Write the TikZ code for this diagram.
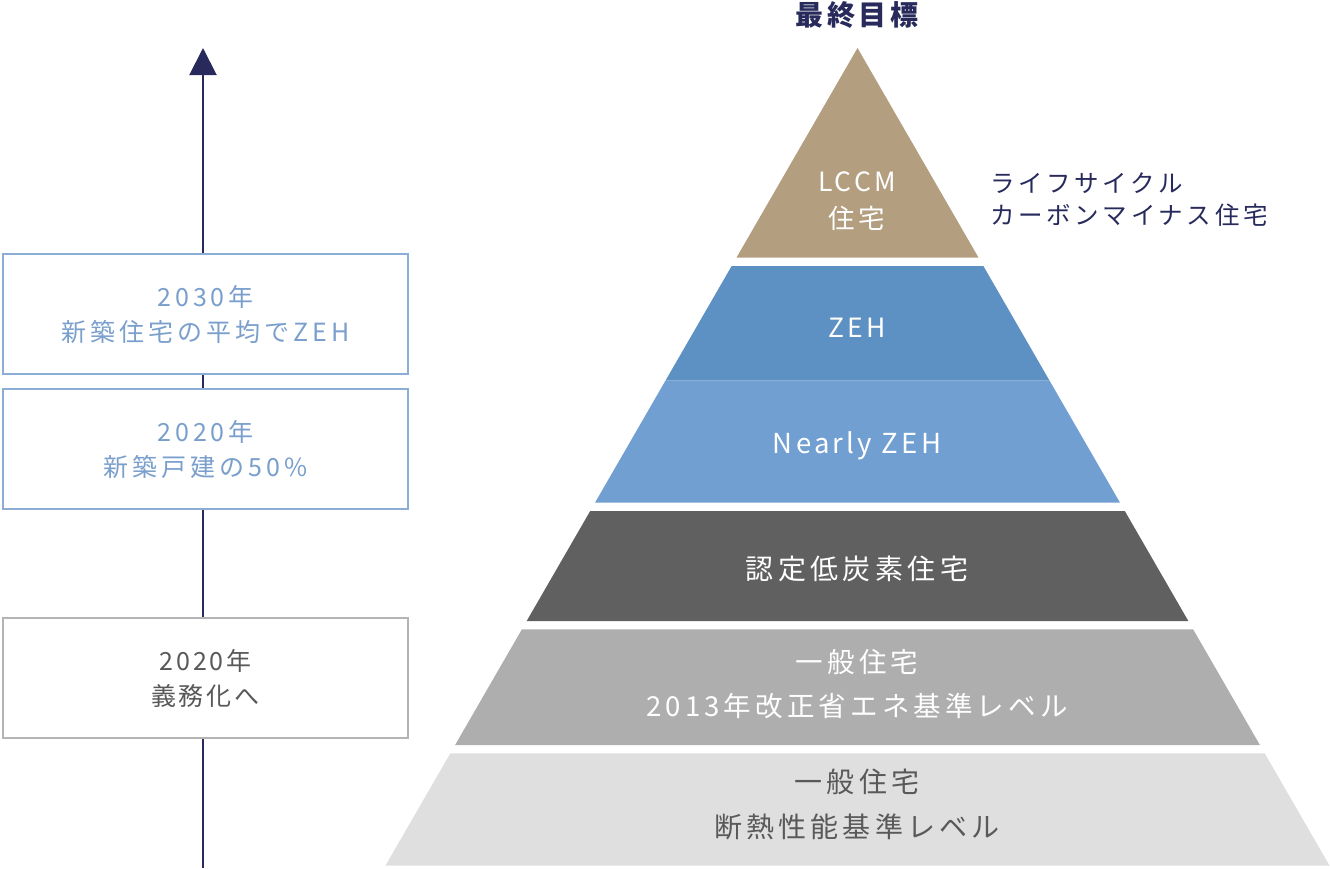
\documentclass[tikz,border=0pt]{standalone}
\usepackage{fontspec}
\setmainfont{Noto Sans CJK JP}
\usetikzlibrary{arrows.meta}
\definecolor{navy}{HTML}{272A5B}
\definecolor{tan}{HTML}{B39E80}
\definecolor{zehblue}{HTML}{5E91C3}
\definecolor{nearblue}{HTML}{719FD1}
\definecolor{darkgr}{HTML}{606060}
\definecolor{midgr}{HTML}{AEAEAE}
\definecolor{lightgr}{HTML}{DFDFDF}
\definecolor{txtgr}{HTML}{595959}
\definecolor{boxblue}{HTML}{8BADD6}
\definecolor{txtblue}{HTML}{7A9FCC}
\definecolor{boxgr}{HTML}{B4B4B4}
\newcommand\pyrlayer[3]{%
  \pgfmathsetmacro\hwa{(#1-48)*0.57735}%
  \pgfmathsetmacro\hwb{(#2-48)*0.57735}%
  \fill[#3] (857.5-\hwa,#1) -- (857.5+\hwa,#1) -- (857.5+\hwb,#2) -- (857.5-\hwb,#2) -- cycle;}
\tikzset{
  lbl/.style={align=center, inner sep=0pt},
  f26/.style={font={\fontsize{26.5}{37}\selectfont\addfontfeatures{LetterSpace=12}}},
  tbox/.style={draw, fill=white, line width=2pt, minimum width=405pt, minimum height=120pt, inner sep=0pt, align=center,
     font={\fontsize{25}{35}\selectfont\addfontfeatures{LetterSpace=16}}},
}
\begin{document}
\begin{tikzpicture}[x=1pt,y=-1pt]
\useasboundingbox (0,0) rectangle (1330,868);
% timeline arrow
\coordinate (abot) at (203,868);
\coordinate (atop) at (203,48);
\draw[navy, line width=2pt, -{Triangle[length=27pt,width=27pt]}] (abot) -- (atop);
% boxes
\node[tbox, draw=boxblue, text=txtblue] (b2030) at (205.5,314) {2030年\\新築住宅の平均でZEH};
\node[tbox, draw=boxblue, text=txtblue] (b2020a) at (205.5,449) {2020年\\新築戸建の50\%};
\node[tbox, draw=boxgr, text=txtgr, font={\fontsize{25}{35}\selectfont\addfontfeatures{LetterSpace=12}}] (b2020b) at (205.5,678) {2020年\\義務化へ};
% pyramid
\fill[tan] (857.5,48) -- (978.45,257.5) -- (736.55,257.5) -- cycle;
\pyrlayer{266}{380.7}{zehblue}
\pyrlayer{380.7}{502.7}{nearblue}
\pyrlayer{511}{621}{darkgr}
\pyrlayer{629.3}{745}{midgr}
\pyrlayer{753.3}{865.7}{lightgr}
% labels
\node[lbl, text=navy, font={\fontsize{28}{34}\selectfont\bfseries\addfontfeatures{LetterSpace=13}}] (goal) at (857,15) {最終目標};
\node[lbl, f26, text=white] (lccm) at (857,201.5) {LCCM\\住宅};
\node[lbl, anchor=west, align=left, text=navy, font={\fontsize{24.5}{32}\selectfont\addfontfeatures{LetterSpace=15}}] (lcdesc) at (990,199.5) {ライフサイクル\\カーボンマイナス住宅};
\node[lbl, f26, text=white] (zeh) at (857,328) {ZEH};
\node[lbl, text=white, font={\fontsize{27.5}{37}\selectfont\addfontfeatures{LetterSpace=12}}] (nzeh) at (857,446) {Nearly ZEH};
\node[lbl, text=white, font={\fontsize{28}{37}\selectfont\addfontfeatures{LetterSpace=16}}] (lowc) at (857,569) {認定低炭素住宅};
\node[lbl, text=white, font={\fontsize{27.5}{44}\selectfont\addfontfeatures{LetterSpace=15}}] (gen13) at (857,684) {一般住宅\\2013年改正省エネ基準レベル};
\node[lbl, text=txtgr, font={\fontsize{28}{45}\selectfont\addfontfeatures{LetterSpace=15}}] (genins) at (857,804.5) {一般住宅\\断熱性能基準レベル};
\end{tikzpicture}
\end{document}
